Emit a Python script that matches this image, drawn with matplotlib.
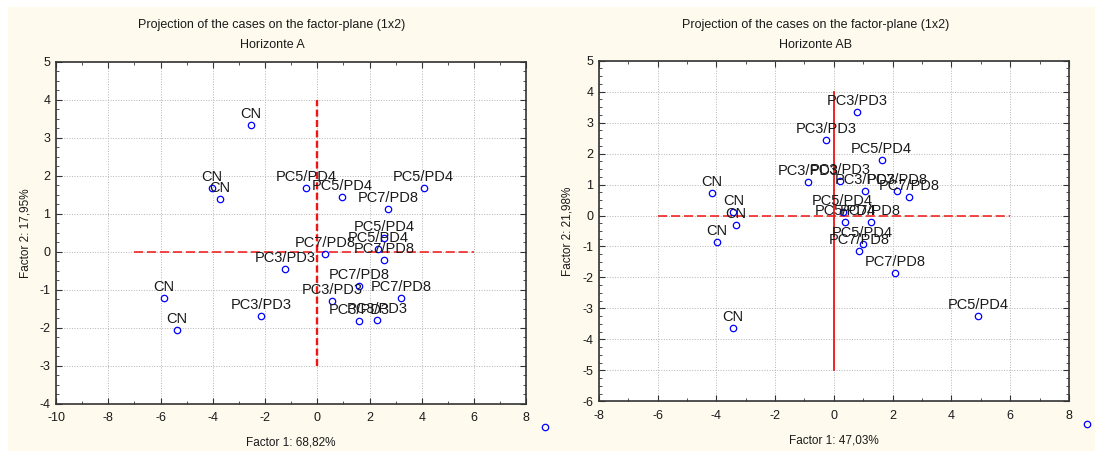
"""
Two factor-plane projections (Horizonte A / Horizonte AB), Statistica style.
"""
import matplotlib
matplotlib.use("Agg")
import matplotlib.pyplot as plt
from matplotlib.patches import Rectangle
from matplotlib.ticker import MultipleLocator

plt.rcParams["font.family"] = ["Liberation Sans", "DejaVu Sans"]
plt.rcParams["axes.unicode_minus"] = False

GROUPS = ["CN", "PC3/PD3", "PC5/PD4", "PC7/PD8"]

# --- Horizonte A: factor 1 / factor 2 coordinates per group ---------------- #
a_x = {
    "CN": [-2.54, -4.03, -3.74, -5.86, -5.38],
    "PC3/PD3": [-2.14, -1.24, 0.57, 1.60, 2.30],
    "PC5/PD4": [-0.42, 0.95, 4.07, 2.55, 2.33],
    "PC7/PD8": [0.31, 2.72, 2.55, 1.59, 3.20],
}
a_y = {
    "CN": [3.33, 1.67, 1.38, -1.21, -2.07],
    "PC3/PD3": [-1.68, -0.46, -1.29, -1.83, -1.80],
    "PC5/PD4": [1.67, 1.44, 1.67, 0.37, 0.08],
    "PC7/PD8": [-0.06, 1.13, -0.21, -0.89, -1.21],
}

# --- Horizonte AB ----------------------------------------------------------- #
b_x = {
    "CN": [-4.14, -3.42, -3.34, -3.99, -3.44],
    "PC3/PD3": [0.79, -0.25, -0.87, 0.22, 1.06],
    "PC5/PD4": [1.63, 4.90, 0.30, 0.38, 0.98],
    "PC7/PD8": [2.16, 2.55, 1.25, 0.87, 2.09],
}
b_y = {
    "CN": [0.72, 0.12, -0.31, -0.86, -3.63],
    "PC3/PD3": [3.33, 2.43, 1.07, 1.11, 0.78],
    "PC5/PD4": [1.80, -3.23, 0.10, -0.20, -0.93],
    "PC7/PD8": [0.78, 0.60, -0.20, -1.15, -1.85],
}

TITLE = "Projection of the cases on the factor-plane (1x2)"
PANELS = [
    dict(sub="Horizonte A", xlab="Factor 1: 68,82%", ylab="Factor 2: 17,95%",
         xlim=(-10, 8), ylim=(-4, 5), hline=(-7, 6), vline=(-3, 4),
         vstyle="dashed", xs=a_x, ys=a_y),
    dict(sub="Horizonte AB", xlab="Factor 1: 47,03%", ylab="Factor 2: 21,98%",
         xlim=(-8, 8), ylim=(-6, 5), hline=(-6, 6), vline=(-5, 4),
         vstyle="solid", xs=b_x, ys=b_y),
]
# stray legend-marker fragments left outside the plots (figure fraction)
stray_marks = [(0.4977, 0.0540), (0.9927, 0.0592)]

CREAM = "#fefaee"
BLUE = "#0000ff"
RED = "#f01414"
INK = "#1a1a1a"

fig = plt.figure(figsize=(10.95, 4.51), dpi=100, facecolor="white")
fig.add_artist(Rectangle((8 / 1095, 0), 1, 1 - 7 / 451,
                         transform=fig.transFigure, facecolor=CREAM,
                         edgecolor="none", zorder=-10))

ax_boxes = [(0.0512, 0.1049, 0.4294, 0.7583),
            (0.5468, 0.1102, 0.4294, 0.7552)]
title_x = [272 / 1095, 816 / 1095]

for p, box, tx in zip(PANELS, ax_boxes, title_x):
    ax = fig.add_axes(box)
    ax.set_facecolor("white")
    ax.set_xlim(*p["xlim"])
    ax.set_ylim(*p["ylim"])
    ax.xaxis.set_major_locator(MultipleLocator(2))
    ax.xaxis.set_minor_locator(MultipleLocator(1))
    ax.yaxis.set_major_locator(MultipleLocator(1))
    ax.yaxis.set_minor_locator(MultipleLocator(0.25))
    ax.tick_params(which="both", direction="in", top=True, right=True,
                   colors="#333333", labelcolor=INK, labelsize=9)
    ax.tick_params(which="major", length=4, width=0.8)
    ax.tick_params(which="minor", length=2.5, width=0.6)
    ax.tick_params(axis="x", pad=6)
    ax.tick_params(axis="y", pad=4)
    ax.grid(True, which="major", linestyle=":", color="#b4b4b4", lw=0.7)
    ax.set_axisbelow(True)
    for s in ax.spines.values():
        s.set_color("#333333")
        s.set_linewidth(1.2)

    # reference lines through the origin
    ax.plot(p["hline"], [0, 0], color=RED, lw=1.1, ls=(0, (6, 2.5)), zorder=2)
    if p["vstyle"] == "dashed":
        ax.plot([0, 0], p["vline"], color=RED, lw=1.7, ls=(0, (3, 1.4)), zorder=2)
    else:
        ax.plot([0, 0], p["vline"], color=RED, lw=1.3, zorder=2)

    for g in GROUPS:
        ax.plot(p["xs"][g], p["ys"][g], "o", ms=4.6, mfc="none", mec=BLUE,
                mew=0.9, zorder=3)
        for x, y in zip(p["xs"][g], p["ys"][g]):
            ax.annotate(g, (x, y), xytext=(0, 5), textcoords="offset points",
                        ha="center", va="baseline", fontsize=10.5, color=INK,
                        zorder=4)

    ax.set_xlabel(p["xlab"], fontsize=8.5, color=INK, labelpad=9)
    ax.set_ylabel(p["ylab"], fontsize=8.5, color=INK, labelpad=6)
    fig.text(tx, 1 - 25 / 451, TITLE, ha="center", va="center",
             fontsize=9, color=INK)
    fig.text(tx, 1 - 45 / 451, p["sub"], ha="center", va="center",
             fontsize=9, color=INK)

for mx, my in stray_marks:
    fig.add_artist(plt.Line2D([mx], [my], marker="o", ms=4.6, mfc="none",
                              mec=BLUE, mew=0.9, transform=fig.transFigure))

fig.savefig("out.png", dpi=100, facecolor=fig.get_facecolor())
